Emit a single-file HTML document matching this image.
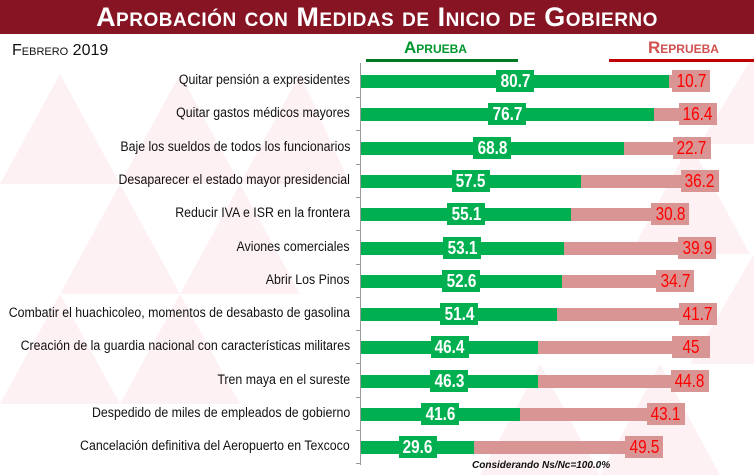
<!DOCTYPE html>
<html><head><meta charset="utf-8"><style>
body{margin:0;width:754px;height:475px;overflow:hidden;background:#fff;font-family:"Liberation Sans",Arial,sans-serif;position:relative}
.t{position:absolute;left:0;top:0;width:754px;height:34px;background:#861422;color:#fff;font-weight:bold;font-size:27px;text-align:center;line-height:34px;font-variant:small-caps;letter-spacing:0.5px}
.a{position:absolute}
.lab{position:absolute;right:404px;font-size:13.5px;color:#111;white-space:nowrap;text-align:right;transform:scaleX(0.915);transform-origin:right center}
.g{position:absolute;left:361px;height:13px;background:#00B050}
.r{position:absolute;height:13px;background:#D99594}
.gl{position:absolute;height:22px;background:#00B050;color:#fff;font-weight:bold;font-size:18px;line-height:22px;text-align:center;width:38px}
.rl{position:absolute;height:22px;background:#D99594;color:#f00;font-size:18px;line-height:22px;text-align:center;width:38px}
.gl span,.rl span{display:inline-block;transform:scaleX(0.85)}
</style></head><body>
<svg class="a" style="left:0;top:34px" width="754" height="441">
<g fill="#fdf1f3">
<polygon points="0,150 60,40 120,150"/><polygon points="60,260 120,150 180,260"/><polygon points="120,150 180,40 240,150"/>
<polygon points="180,260 240,150 300,260"/><polygon points="240,150 300,40 350,150"/><polygon points="0,370 60,260 120,370"/>
<polygon points="120,370 180,260 240,370"/><polygon points="600,441 660,330 720,441"/><polygon points="480,441 540,330 600,441"/>
<polygon points="690,330 754,220 754,330"/><polygon points="630,220 690,110 750,220"/><polygon points="700,110 754,20 754,110"/>
</g></svg>
<div class="t">Aprobación con Medidas de Inicio de Gobierno</div>
<div class="a" style="left:12px;top:42px;font-size:16px;font-variant:small-caps;color:#111">Febrero 2019</div>
<div class="a" style="left:404px;top:38px;font-size:17px;font-weight:bold;color:#00962e;font-variant:small-caps">Aprueba</div>
<div class="a" style="left:366px;top:59px;width:152px;height:3px;background:#007a20"></div>
<div class="a" style="left:648px;top:38px;font-size:17px;font-weight:bold;color:#d0504f;font-variant:small-caps">Reprueba</div>
<div class="a" style="left:609px;top:59px;width:145px;height:3px;background:#c00000"></div>
<div class="a" style="left:360px;top:63px;width:1px;height:402px;background:#999"></div>
<div id="c"></div>
<div class="a" style="left:472px;top:460px;font-size:10px;font-style:italic;font-weight:bold;color:#111">Considerando Ns/Nc=100.0%</div>
<script>
var d=[["Quitar pensión a expresidentes",80.7,10.7],["Quitar gastos médicos mayores",76.7,16.4],["Baje los sueldos de todos los funcionarios",68.8,22.7],["Desaparecer el estado mayor presidencial",57.5,36.2],["Reducir IVA e ISR en la frontera",55.1,30.8],["Aviones comerciales",53.1,39.9],["Abrir Los Pinos",52.6,34.7],["Combatir el huachicoleo, momentos de desabasto de gasolina",51.4,41.7],["Creación de la guardia nacional con características militares",46.4,45],["Tren maya en el sureste",46.3,44.8],["Despedido de miles de empleados de gobierno",41.6,43.1],["Cancelación definitiva del Aeropuerto en Texcoco",29.6,49.5]];
var s=3.82,h="";
d.forEach(function(r,i){var y=81+i*33.3,gw=r[1]*s,rw=r[2]*s,ge=361+gw,re=ge+rw;
h+='<div class="lab" style="top:'+(y-9)+'px">'+r[0]+'</div>';
h+='<div class="a" style="left:356px;top:'+(y+16)+'px;width:5px;height:1px;background:#999"></div>';
h+='<div class="g" style="top:'+(y-6)+'px;width:'+gw+'px"></div>';
h+='<div class="r" style="top:'+(y-6)+'px;left:'+ge+'px;width:'+rw+'px"></div>';
h+='<div class="gl" style="top:'+(y-11)+'px;left:'+(361+gw/2-19)+'px"><span>'+r[1]+'</span></div>';
h+='<div class="rl" style="top:'+(y-11)+'px;left:'+(re-38)+'px"><span>'+r[2]+'</span></div>';});
document.getElementById('c').innerHTML=h;
</script>
</body></html>
